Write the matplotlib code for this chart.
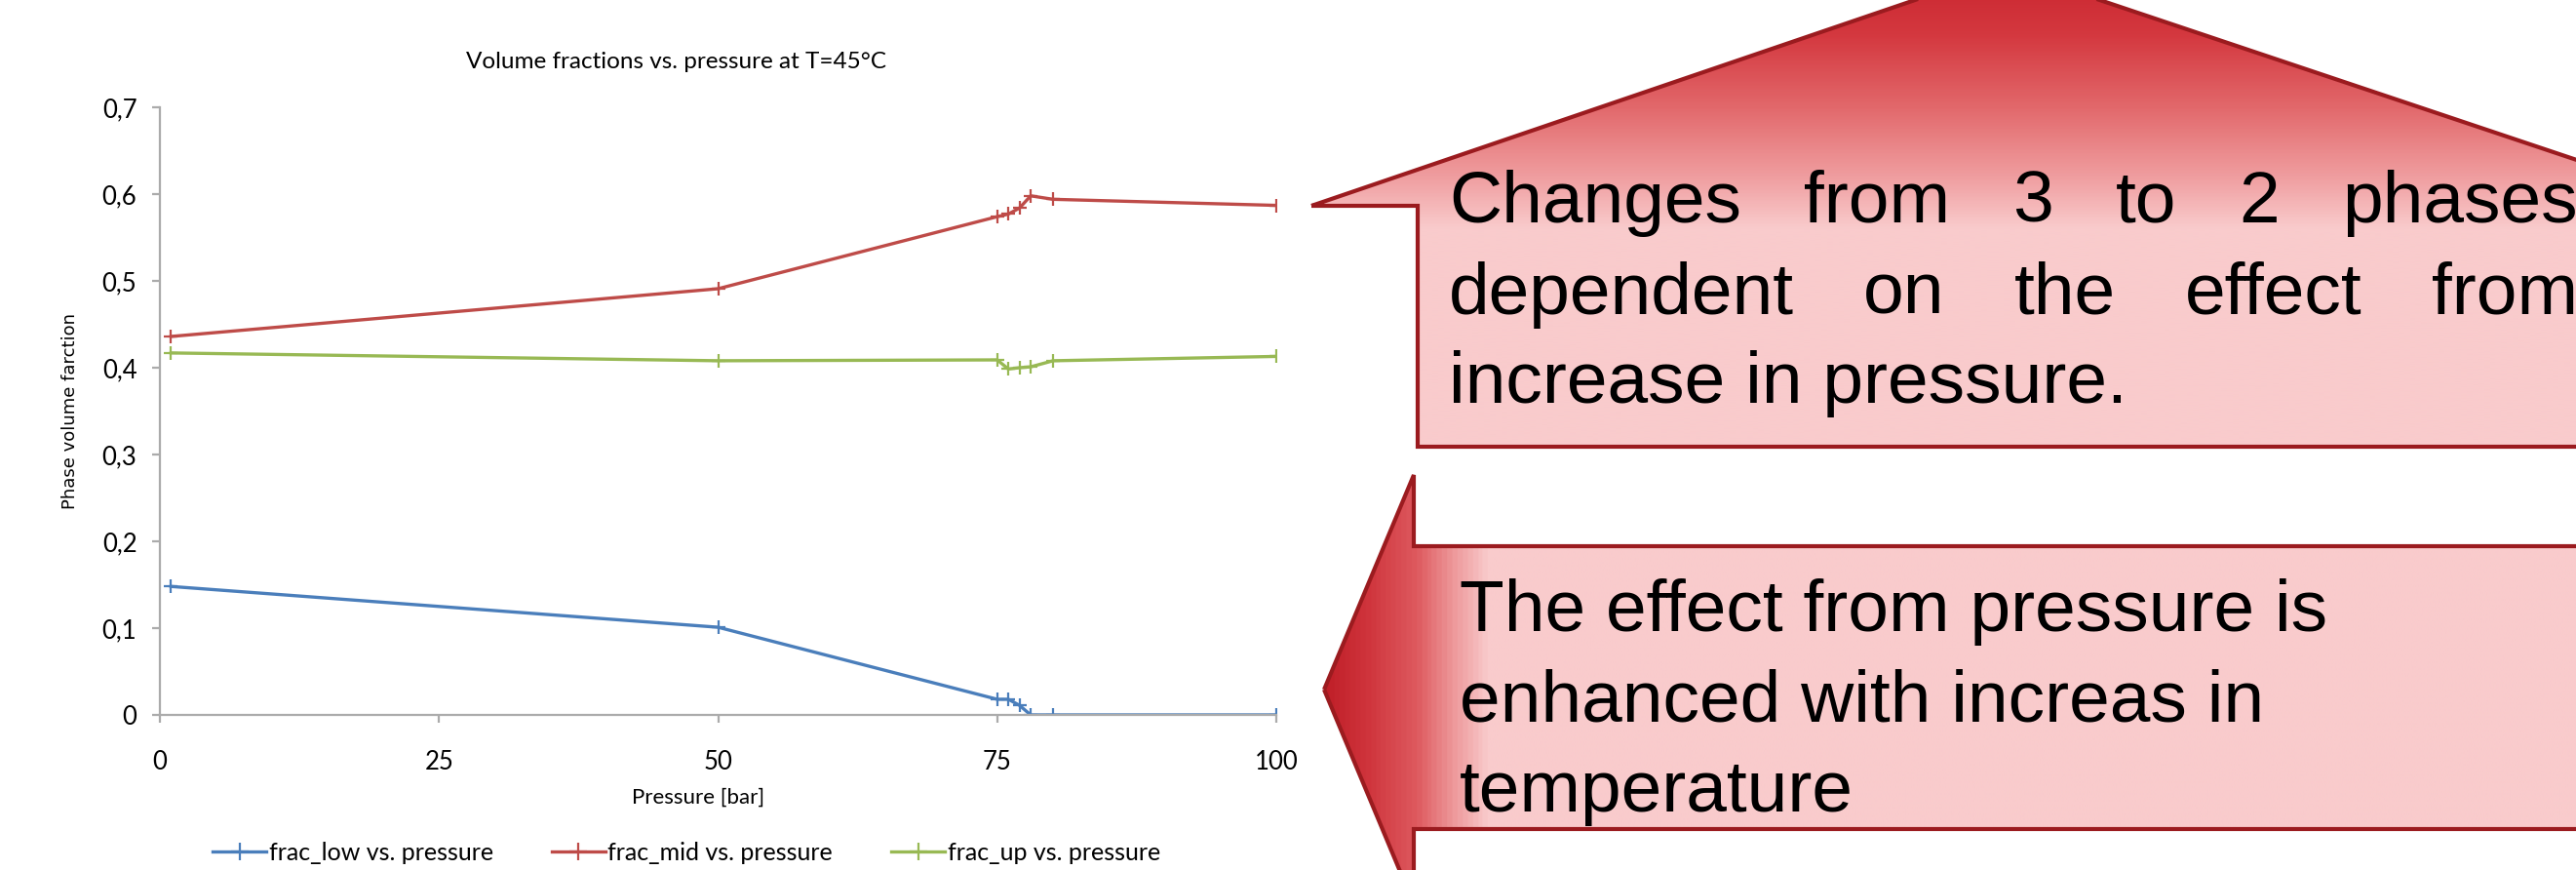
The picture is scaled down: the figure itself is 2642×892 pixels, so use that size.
import matplotlib
matplotlib.use("Agg")
import matplotlib.pyplot as plt
import numpy as np
from matplotlib.patches import Polygon
from matplotlib.colors import LinearSegmentedColormap
from matplotlib.lines import Line2D

# ---------------- data ----------------
pressure = [1, 50, 75, 76, 77, 78, 80, 100]
frac_low = [0.148, 0.101, 0.018, 0.018, 0.011, 0.0, 0.0, 0.0]
frac_mid = [0.436, 0.491, 0.574, 0.577, 0.584, 0.598, 0.594, 0.587]
frac_up = [0.417, 0.408, 0.409, 0.3985, 0.400, 0.401, 0.408, 0.413]
series_names = ["frac_low vs. pressure", "frac_mid vs. pressure", "frac_up vs. pressure"]
x_ticks = [0, 25, 50, 75, 100]
y_ticks = [0, 0.1, 0.2, 0.3, 0.4, 0.5, 0.6, 0.7]
y_ticklabels = ["0", "0,1", "0,2", "0,3", "0,4", "0,5", "0,6", "0,7"]
title = "Volume fractions vs. pressure at T=45°C"
xlabel = "Pressure [bar]"
ylabel = "Phase volume farction"
callout_top = [["Changes", "from", "3", "to", "2", "phases"],
               ["dependent", "on", "the", "effect", "from"],
               ["increase in pressure."]]
callout_bottom = ["The effect from pressure is", "enhanced with increas in", "temperature"]

W, H = 2642, 892
colors = ["#4A7EBB", "#BE4B48", "#98B954"]
chart_font = ["Lato", "DejaVu Sans"]

fig = plt.figure(figsize=(W / 100, H / 100), dpi=100)

# ---------------- chart ----------------
x0, x1, ytop, ybot = 164, 1309, 110, 733
ax = fig.add_axes([x0 / W, 1 - ybot / H, (x1 - x0) / W, (ybot - ytop) / H])
for vals, c, name in zip([frac_low, frac_mid, frac_up], colors, series_names):
    ax.plot(pressure, vals, color=c, lw=2.4, marker="+", ms=10, mew=1.6, label=name,
            solid_joinstyle="round")
ax.set_xlim(0, 100)
ax.set_ylim(0, 0.7)
ax.set_xticks(x_ticks)
ax.set_xticklabels([str(t) for t in x_ticks], fontsize=18.5, family=chart_font)
ax.set_yticks(y_ticks)
ax.set_yticklabels(y_ticklabels, fontsize=18.5, family=chart_font)
for s in ["top", "right"]:
    ax.spines[s].set_visible(False)
for s in ["left", "bottom"]:
    ax.spines[s].set_color("#ABABAB")
    ax.spines[s].set_linewidth(1.6)
ax.tick_params(axis="both", direction="out", length=6, width=1.6, color="#ABABAB")
ax.tick_params(axis="x", pad=20)
ax.tick_params(axis="y", pad=11)
ax.patch.set_alpha(0)

fig.text(694 / W, 1 - 64 / H, title, ha="center", va="center", fontsize=17.5, family=chart_font)
fig.text(716 / W, 1 - 818 / H, xlabel, ha="center", va="center", fontsize=16, family=chart_font)
fig.text(72 / W, 1 - 422 / H, ylabel, ha="center", va="center", rotation=90, fontsize=13,
         family="DejaVu Sans")

handles = [Line2D([], [], color=c, lw=2.4, marker="+", ms=13, mew=1.6) for c in colors]
fig.legend(handles, series_names, loc="center", bbox_to_anchor=(704 / W, 1 - 874 / H),
           ncol=3, frameon=False, prop={"family": chart_font, "size": 18},
           handlelength=2.2, handletextpad=0.1, columnspacing=2.4)

# ---------------- callouts overlay ----------------
ov = fig.add_axes([0, 0, 1, 1])
ov.set_xlim(0, W)
ov.set_ylim(H, 0)
ov.axis("off")
ov.patch.set_alpha(0)

edge = "#9B1B1F"
pink = "#F9CBCC"

# top callout (vertical gradient)
top_poly = [(1345, 211), (2058, -32), (2783, 211), (2783, 458), (1454, 458), (1454, 211)]
p1 = Polygon(top_poly, closed=True, facecolor="none", edgecolor=edge, lw=3, zorder=3,
             joinstyle="miter")
ov.add_patch(p1)
cm1 = LinearSegmentedColormap.from_list("g1", [(0.0, "#C8222C"), (0.15, "#D4383F"),
                                               (0.30, "#E2686B"), (0.45, "#F0A0A2"),
                                               (0.55, pink), (1.0, pink)])
grad_y = np.linspace(0, 1, 400).reshape(-1, 1)
im1 = ov.imshow(grad_y, cmap=cm1, extent=(1300, 2800, 458, -40), aspect="auto", zorder=2,
                interpolation="bilinear")
clip1 = Polygon(top_poly, closed=True, transform=ov.transData)
im1.set_clip_path(clip1)

# bottom callout (horizontal gradient)
bot_poly = [(1358, 707), (1450, 487), (1450, 560), (2700, 560), (2700, 850), (1450, 850), (1450, 927)]
p2 = Polygon(bot_poly, closed=True, facecolor="none", edgecolor=edge, lw=3, zorder=3,
             joinstyle="miter")
ov.add_patch(p2)
cm2 = LinearSegmentedColormap.from_list("g2", [(0.0, "#C01F28"), (0.031, "#CF343C"),
                                               (0.069, "#DE5A5F"), (0.098, "#EE9A9C"),
                                               (0.124, pink), (1.0, pink)])
grad_x = np.linspace(0, 1, 1000).reshape(1, -1)
im2 = ov.imshow(grad_x, cmap=cm2, extent=(1358, 2700, 930, 480), aspect="auto", zorder=2,
                interpolation="bilinear")
clip2 = Polygon(bot_poly, closed=True, transform=ov.transData)
im2.set_clip_path(clip2)

txt_font = ["Liberation Sans", "DejaVu Sans"]
fs = 54
renderer = fig.canvas.get_renderer()

# justified text for the top callout
left, right = 1486, 2644
baselines_top = [228, 322, 413]
for words, yb in zip(callout_top, baselines_top):
    if len(words) == 1:
        ov.text(left, yb, words[0], fontsize=fs, family=txt_font, va="baseline", ha="left", zorder=4)
        continue
    objs = [ov.text(0, yb, w, fontsize=fs, family=txt_font, va="baseline", ha="left", zorder=4)
            for w in words]
    widths = [o.get_window_extent(renderer).width for o in objs]
    gap = (right - left - sum(widths)) / (len(words) - 1)
    x = left
    for o, w in zip(objs, widths):
        o.set_x(x)
        x += w + gap

baselines_bot = [647, 740, 832]
for line, yb in zip(callout_bottom, baselines_bot):
    ov.text(1497, yb, line, fontsize=fs, family=txt_font, va="baseline", ha="left", zorder=4)

fig.savefig("out.png", dpi=100)
